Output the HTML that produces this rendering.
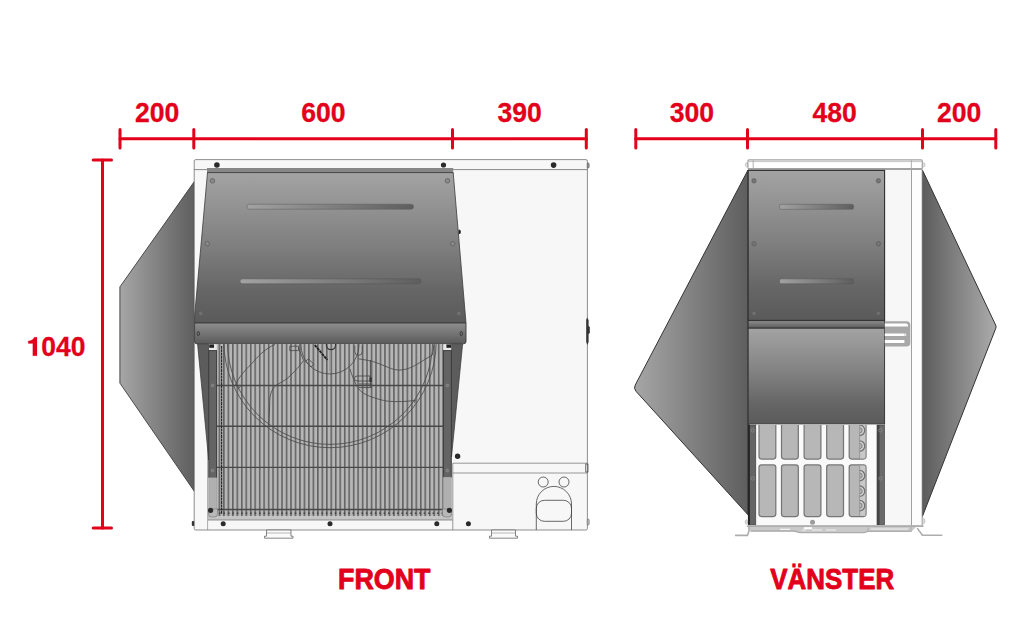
<!DOCTYPE html>
<html>
<head>
<meta charset="utf-8">
<title>Dimensions</title>
<style>
html,body{margin:0;padding:0;background:#fff;}
body{width:1024px;height:640px;overflow:hidden;font-family:"Liberation Sans",sans-serif;}
svg{display:block;}
.t{font-family:"Liberation Sans",sans-serif;font-weight:bold;fill:#e2001a;}
</style>
</head>
<body>
<svg width="1024" height="640" viewBox="0 0 1024 640">
<defs>
  <linearGradient id="gHood" x1="0" y1="0" x2="0" y2="1">
    <stop offset="0" stop-color="#a3a3a3"/>
    <stop offset="0.45" stop-color="#828282"/>
    <stop offset="0.78" stop-color="#666666"/>
    <stop offset="1" stop-color="#5a5a5a"/>
  </linearGradient>
  <linearGradient id="gBand" x1="0" y1="0" x2="0" y2="1">
    <stop offset="0" stop-color="#8e8e8e"/>
    <stop offset="1" stop-color="#5a5a5a"/>
  </linearGradient>
  <linearGradient id="gWingL" x1="0" y1="0" x2="1" y2="0">
    <stop offset="0" stop-color="#a6a6a6"/>
    <stop offset="1" stop-color="#5e5e5e"/>
  </linearGradient>
  <linearGradient id="gWingR" x1="0" y1="0" x2="1" y2="0">
    <stop offset="0" stop-color="#5c5c5c"/>
    <stop offset="1" stop-color="#acacac"/>
  </linearGradient>
  <linearGradient id="gSlot" x1="0" y1="0" x2="1" y2="0">
    <stop offset="0" stop-color="#a2a2a2"/>
    <stop offset="1" stop-color="#5e5e5e"/>
  </linearGradient>
  <pattern id="pGrille" x="218.6" y="0" width="4.475" height="10" patternUnits="userSpaceOnUse">
    <rect x="0" y="0" width="4.475" height="10" fill="#b6b6b6"/>
    <rect x="0.05" y="0" width="1.5" height="10" fill="#5e5e5e"/>
  </pattern>
  <clipPath id="cGrille"><rect x="216.5" y="344" width="227" height="172.5"/></clipPath>
  <clipPath id="cCells"><rect x="755.8" y="424.9" width="121" height="100"/></clipPath>
</defs>

<!-- ================= FRONT VIEW ================= -->
<g id="front">
  <!-- left wing -->
  <polygon points="194.5,181.3 119.9,286.9 119.9,383.1 194.5,491.6" fill="url(#gWingL)" stroke="#3c3c3c" stroke-width="0.9" stroke-linejoin="round"/>
  <!-- body -->
  <rect x="194.2" y="159.6" width="393.2" height="370.4" rx="1.5" fill="#f7f7f7" stroke="#606060" stroke-width="0.7"/>
  <line x1="194.2" y1="169.6" x2="587.4" y2="169.6" stroke="#5a5a5a" stroke-width="0.7"/>
  <!-- hood -->
  <rect x="207" y="168.4" width="246.2" height="4.4" fill="#878787"/><line x1="207.3" y1="172.8" x2="453.3" y2="172.8" stroke="#3a3a3a" stroke-width="1.2"/><line x1="207" y1="168.5" x2="453.2" y2="168.5" stroke="#6a6a6a" stroke-width="0.6"/>
  <polygon points="207.5,172.6 453.2,172.6 466,323 194.6,323 194.6,316" fill="url(#gHood)" stroke="#3c3c3c" stroke-width="0.8" stroke-linejoin="round"/>
  <!-- band -->
  <path d="M194.6,323 H466 V341.5 Q466,343.8 463.5,343.8 H197 Q194.6,343.8 194.6,341.5 Z" fill="url(#gBand)" stroke="#3a3a3a" stroke-width="0.9"/>
  <!-- grille -->
  <rect x="216.5" y="344" width="227" height="172.5" fill="url(#pGrille)"/>
  <!-- fan + grille lines -->
  <g clip-path="url(#cGrille)" fill="none" stroke="#4c4c4c" stroke-width="0.85">
    <circle cx="330" cy="341.5" r="106.2"/>
    <circle cx="330" cy="341.8" r="102.6"/>
    <circle cx="330" cy="345" r="29"/>
    <path d="M234.8,386 C238,378 246,369 251,364.5 C257,357 266,348 275,344.5"/>
    <path d="M236.5,386 l2,2.6 l2,-2.6"/>
    <path d="M303.5,360.6 C299,367 295,371 291,375 C287,379 283,381.5 278.5,383.8 C275,386 273,388 272.3,390 C270,394 269.5,400 269.7,404 L268.8,425"/>
    <path d="M289.8,346.2 h8.7 v4.4 h-8.7 z M298.5,347.5 L303.5,360.5"/>
    <path d="M308.5,358.8 L314,364.4 L311,366.9 L305.4,361.3 Z"/>
    <path d="M354.8,345.6 v6 a3.75,3.75 0 0 0 7.5,0 v-6"/>
    <path d="M358.5,358.8 C366,360 372,361 376,362.5 C381,364.5 385,366 388.5,367.5 C393,369.5 397,370.3 401,370 C405,369.6 409,368.5 413.5,366.3 C418,364 422,361 426,358.8 L432.3,355 L434,345"/>
    <path d="M349.8,368.8 C351,372 352,375.5 353.5,378.8 C355,382.5 356.5,386 358.5,388.8 C361,392 365,394.5 369.8,396.3 C376,398.5 382,400.5 388.5,401.3 C397,402 406,401.5 413.5,400.6 L415.4,400 L414.3,402.8"/>
    <path d="M370.4,360 V387.5" stroke="#444"/>
    <path d="M357,376 h13 v5 h-13 a2.5,2.5 0 0 1 0,-5 z M359,384 h13 M359,387.6 h13" stroke="#444" stroke-width="0.8"/>
    <rect x="369.6" y="377.5" width="2.2" height="4.5" fill="#333" stroke="none"/>
    <path d="M314.8,345 L327.3,360" stroke="#222" stroke-width="1.9" stroke-dasharray="3 0.7"/>
    <circle cx="331" cy="345" r="4.6" stroke="#333" stroke-width="1.2"/>
    <path d="M329.8,350 V371" stroke="#9a9a9a" stroke-width="1.3"/>
  </g>
  <g stroke="#484848" stroke-width="1.35">
    <line x1="217" y1="385.5" x2="443" y2="385.5"/>
    <line x1="217" y1="426.2" x2="443" y2="426.2"/>
    <line x1="217" y1="467.4" x2="443" y2="467.4"/>
    <line x1="217" y1="509.5" x2="443" y2="509.5"/>
  </g>
  <line x1="221.6" y1="346" x2="221.6" y2="514" stroke="#2a2a2a" stroke-width="1.2" stroke-dasharray="2.8 0.5"/>
  <line x1="219" y1="513.2" x2="443" y2="513.2" stroke="#444" stroke-width="1.6" stroke-dasharray="1.6 2.85"/>
  <!-- below grille -->
  <rect x="208" y="516.3" width="244" height="3.6" fill="#c4c4c4"/>
  <line x1="208" y1="520" x2="452.6" y2="520" stroke="#666" stroke-width="0.7"/>
  <line x1="207.6" y1="344" x2="207.6" y2="530" stroke="#777" stroke-width="0.6"/>
  <!-- skirts + pillars -->
  <polygon points="197.6,344.2 208.7,344.2 208.7,460" fill="#5c5c5c" stroke="#333" stroke-width="0.7"/>
  <polygon points="462.6,344.2 451.5,344.2 451.5,457" fill="#5c5c5c" stroke="#333" stroke-width="0.7"/>
  <rect x="208.8" y="350.6" width="7.8" height="127" fill="#646464" stroke="#363636" stroke-width="0.9"/>
  <rect x="443.4" y="350.6" width="7.9" height="126.6" fill="#646464" stroke="#363636" stroke-width="0.9"/>
  <rect x="208.8" y="477.5" width="7.6" height="39" fill="#b0b0b0" stroke="#888" stroke-width="0.5"/>
  <rect x="443.4" y="477" width="7.8" height="39" fill="#b0b0b0" stroke="#888" stroke-width="0.5"/>
  <path d="M208.5,509 h9 v5 q0,3 -3,3 h-3 q-3,0 -3,-3 z" fill="#b8b8b8" stroke="#777" stroke-width="0.6"/>
  <path d="M451.5,509 h-9 v5 q0,3 3,3 h3 q3,0 3,-3 z" fill="#b8b8b8" stroke="#777" stroke-width="0.6"/>
  <rect x="209" y="344.4" width="7.4" height="5.4" fill="#e8e8e8"/><rect x="209.2" y="344.4" width="4.8" height="3.4" fill="#222"/>
  <rect x="443.4" y="344.4" width="7.8" height="5.4" fill="#e8e8e8"/><rect x="446.4" y="344.4" width="4.8" height="3.4" fill="#222"/>
  <!-- pillar screws -->
  <g fill="#777" stroke="#999" stroke-width="0.5">
    <circle cx="212.6" cy="385.5" r="1.4"/><circle cx="212.6" cy="470.5" r="1.4"/>
    <circle cx="447.3" cy="385.5" r="1.4"/><circle cx="447.3" cy="470.5" r="1.4"/>
  </g>
  <!-- slots -->
  <rect x="247" y="204.2" width="166.5" height="5" rx="2.5" fill="url(#gSlot)" stroke="#5a5a5a" stroke-width="0.5"/>
  <rect x="240" y="278.8" width="181" height="5" rx="2.5" fill="url(#gSlot)" stroke="#555" stroke-width="0.5"/>
  <!-- hood screws (gray) -->
  <g fill="#8a8a8a" stroke="#606060" stroke-width="0.8">
    <circle cx="212.4" cy="180.8" r="2.3"/><circle cx="447.5" cy="180.8" r="2.3"/>
    <circle cx="207.3" cy="243.7" r="2.2"/><circle cx="452.8" cy="243.7" r="2.2"/>
  </g>
  <g fill="#666" stroke="#8a8a8a" stroke-width="0.5">
    <circle cx="200.8" cy="313.4" r="1.3"/><circle cx="458.9" cy="313.4" r="1.3"/>
  </g>
  <ellipse cx="198.3" cy="333.6" rx="1.2" ry="2.1" fill="none" stroke="#222" stroke-width="0.7"/>
  <ellipse cx="461.3" cy="333.6" rx="1.2" ry="2.1" fill="none" stroke="#222" stroke-width="0.7"/>
  <path d="M458.6,229.6 a2.3,2.3 0 0 1 0,4.6 z" fill="#222"/>
  <!-- black screws -->
  <g fill="#2a2a2a">
    <circle cx="216.9" cy="165" r="2.8"/><circle cx="443.5" cy="165" r="2.6"/><circle cx="553.6" cy="165.1" r="2.8"/>
    <circle cx="223.2" cy="523.8" r="2.5"/><circle cx="330" cy="523.8" r="2.5"/><circle cx="436.8" cy="523.8" r="2.5"/>
    <circle cx="468.4" cy="523.8" r="2.5"/><circle cx="457.6" cy="456.3" r="2.7"/>
    <circle cx="210.6" cy="510.3" r="2.6"/><circle cx="449.4" cy="510.3" r="2.6"/>
  </g>
  <!-- right lower -->
  <g fill="none" stroke="#777" stroke-width="0.75">
    <line x1="452.8" y1="463.2" x2="587" y2="463.2"/>
    <line x1="452.8" y1="473" x2="587" y2="473"/>
    <line x1="452.8" y1="463.2" x2="452.8" y2="530"/>
  </g>
  <g fill="none" stroke="#444" stroke-width="0.8">
    <circle cx="543.2" cy="482" r="5"/>
    <circle cx="564" cy="482" r="5"/>
    <path d="M536.3,530 V504 A17.6,17.6 0 0 1 571.5,504 V530"/>
    <rect x="536.3" y="500.3" width="35.2" height="21" rx="8" ry="8"/>
  </g>
  <!-- feet -->
  <g fill="#fafafa" stroke="#555" stroke-width="0.7">
    <path d="M266.5,530 v6.2 h-2 v2 h28.5 v-2 h-2 v-6.2 z"/>
    <path d="M491.5,530 v6.2 h-2 v2 h28 v-2 h-2 v-6.2 z"/>
  </g>
  <line x1="266.5" y1="533" x2="291" y2="533" stroke="#777" stroke-width="0.5"/>
  <line x1="491.5" y1="533" x2="515.5" y2="533" stroke="#777" stroke-width="0.5"/>
  <!-- small side details -->
  <path d="M587,317.4 L588.6,320 V326 L589.8,327 V333 L588.6,334 V342 L587.4,345 L586.2,342 V320 Z" fill="#333"/>
  <rect x="585.8" y="464" width="2.2" height="8" fill="none" stroke="#333" stroke-width="0.7"/>
  <rect x="587.2" y="519" width="2" height="6" rx="1" fill="#bbb" stroke="#555" stroke-width="0.5"/>
  <rect x="587.2" y="163" width="2" height="5" rx="1" fill="#999" stroke="#444" stroke-width="0.5"/>
  <rect x="191.8" y="521" width="2.4" height="5" rx="1" fill="#333"/>
</g>

<!-- ================= LEFT (VÄNSTER) VIEW ================= -->
<g id="side">
  <path d="M748,170 L635.3,384.9 Q633.4,388.4 636.1,391.4 L748,514.8 Z" fill="url(#gWingL)" stroke="#333" stroke-width="1" stroke-linejoin="round"/>
  <path d="M922.4,170 L995.6,325 Q996.6,326.6 995.8,328.2 L922.4,516.4 Z" fill="url(#gWingR)" stroke="#333" stroke-width="1" stroke-linejoin="round"/>
  <!-- white columns -->
  <rect x="884.5" y="169.5" width="27.3" height="357" fill="#f7f7f7"/>
  <rect x="911.8" y="169.5" width="10.4" height="357" fill="#fdfdfd"/>
  <line x1="911.5" y1="169.5" x2="911.5" y2="526.5" stroke="#a0a0a0" stroke-width="1"/>
  <line x1="922.2" y1="169.5" x2="922.2" y2="526.5" stroke="#777" stroke-width="0.8"/>
  <!-- lid -->
  <ellipse cx="746.6" cy="164.8" rx="1.3" ry="2" fill="#e4e4e4" stroke="#aaa" stroke-width="0.6"/>
  <ellipse cx="923.6" cy="164.8" rx="1.4" ry="2.1" fill="#e4e4e4" stroke="#aaa" stroke-width="0.6"/>
  <rect x="747.9" y="159.8" width="174.4" height="9.2" rx="1.2" fill="#fff" stroke="#a2a2a2" stroke-width="1.2"/>
  <line x1="748" y1="161.6" x2="922.3" y2="161.6" stroke="#bdbdbd" stroke-width="0.9"/>
  <line x1="748" y1="168.9" x2="922.3" y2="168.9" stroke="#a2a2a2" stroke-width="2"/>
  <line x1="753.2" y1="160" x2="753.2" y2="169" stroke="#a8a8a8" stroke-width="0.9"/>
  <line x1="911.4" y1="160" x2="911.4" y2="169" stroke="#a8a8a8" stroke-width="0.9"/>
  <!-- panels -->
  <rect x="748.2" y="170.4" width="136.4" height="150" fill="url(#gHood)" stroke="#2e2e2e" stroke-width="1.1"/>
  <rect x="748.2" y="320.6" width="136.4" height="7.6" fill="url(#gBand)" stroke="#2e2e2e" stroke-width="0.9"/>
  <rect x="748.2" y="328.2" width="136.4" height="96" fill="url(#gHood)" stroke="#2e2e2e" stroke-width="0.9"/>
  <!-- cell area -->
  <rect x="749" y="424.5" width="135.6" height="101.5" fill="#fafafa"/>
  <g fill="#b7b7b7" stroke="#767676" stroke-width="1.25" clip-path="url(#cCells)">
    <rect x="759.0" y="418" width="16.8" height="41" rx="2.4"/>
    <rect x="759.0" y="464.9" width="16.8" height="51.6" rx="2.4"/>
    <rect x="781.5" y="418" width="16.8" height="41" rx="2.4"/>
    <rect x="781.5" y="464.9" width="16.8" height="51.6" rx="2.4"/>
    <rect x="804.1" y="418" width="16.8" height="41" rx="2.4"/>
    <rect x="804.1" y="464.9" width="16.8" height="51.6" rx="2.4"/>
    <rect x="826.7" y="418" width="16.8" height="41" rx="2.4"/>
    <rect x="826.7" y="464.9" width="16.8" height="51.6" rx="2.4"/>
    <rect x="849.2" y="418" width="16.8" height="41" rx="2.4"/>
    <rect x="849.2" y="464.9" width="16.8" height="51.6" rx="2.4"/>
  </g>
  <!-- valve semicircles in last column -->
  <g clip-path="url(#cCells)">
    <rect x="859.6" y="425" width="5.8" height="33.4" fill="#c8c8c8"/>
    <rect x="859.6" y="465.6" width="5.8" height="50.2" fill="#c8c8c8"/>
    <g fill="#cfcfcf" stroke="#727272" stroke-width="1.3">
      <path d="M859.6,425.1 a5.2,5.2 0 0 1 0,10.4"/>
      <path d="M859.6,440.8 a5.2,5.2 0 0 1 0,10.4"/>
      <path d="M859.6,470.4 a5.2,5.2 0 0 1 0,10.4"/>
      <path d="M859.6,486.0 a5.2,5.2 0 0 1 0,10.4"/>
      <path d="M859.6,500.4 a5.2,5.2 0 0 1 0,10.4"/>
    </g>
    <g fill="#b4b4b4" stroke="#7a7a7a" stroke-width="0.9">
      <path d="M859.6,427.7 a2.6,2.6 0 0 1 0,5.2"/>
      <path d="M859.6,443.4 a2.6,2.6 0 0 1 0,5.2"/>
      <path d="M859.6,473.0 a2.6,2.6 0 0 1 0,5.2"/>
      <path d="M859.6,488.6 a2.6,2.6 0 0 1 0,5.2"/>
      <path d="M859.6,503.0 a2.6,2.6 0 0 1 0,5.2"/>
    </g>
    <line x1="859.6" y1="425" x2="859.6" y2="459" stroke="#8a8a8a" stroke-width="0.7"/>
    <line x1="859.6" y1="465" x2="859.6" y2="516.5" stroke="#8a8a8a" stroke-width="0.7"/>
  </g>
  <!-- pillars -->
  <rect x="749.2" y="425" width="6.6" height="99.9" fill="#646464" stroke="#3a3a3a" stroke-width="0.6"/>
  <rect x="877" y="425" width="7.6" height="99.9" fill="#6a6a6a" stroke="#3a3a3a" stroke-width="0.6"/><rect x="877" y="425" width="2.6" height="99.9" fill="#444"/>
  <line x1="748.9" y1="424.5" x2="748.9" y2="524.9" stroke="#262626" stroke-width="2"/>
  <g fill="none" stroke="#8e8e8e" stroke-width="0.7">
    <circle cx="752.6" cy="430.4" r="1.7"/><circle cx="752.6" cy="478.4" r="1.7"/>
    <circle cx="880.4" cy="430.4" r="1.7"/><circle cx="880.4" cy="478.4" r="1.7"/>
  </g>
  <circle cx="812.5" cy="522.3" r="2.5" fill="#9c9c9c"/>
  <!-- slots -->
  <rect x="779.6" y="204.3" width="74" height="5" rx="1.6" fill="url(#gSlot)" stroke="#5a5a5a" stroke-width="0.5"/>
  <rect x="779.6" y="278.8" width="74" height="5" rx="1.6" fill="url(#gSlot)" stroke="#555" stroke-width="0.5"/>
  <!-- panel screws -->
  <g fill="#767676" stroke="#555" stroke-width="0.6">
    <circle cx="754" cy="180.8" r="2.2"/><circle cx="878.4" cy="180.8" r="2.2"/>
    <circle cx="754" cy="243.7" r="2.2"/><circle cx="878.4" cy="243.7" r="2.2"/>
  </g>
  <g fill="#666" stroke="#8a8a8a" stroke-width="0.5">
    <circle cx="754" cy="313.4" r="1.2"/><circle cx="878.4" cy="313.4" r="1.2"/>
  </g>
  <!-- handle -->
  <path d="M884.8,321.2 H906.5 Q910.3,321.2 910.3,325 V342.8 Q910.3,346.6 906.5,346.6 H884.8 Z" fill="#a8a8a8"/>
  <path d="M884.8,323.4 H906 Q908,323.4 908,325.4 V326.5 H884.8 Z" fill="#fff"/>
  <rect x="884.8" y="333.5" width="19.4" height="2.5" fill="#fff"/>
  <rect x="884.8" y="340" width="19.6" height="3" fill="#fff"/>
  <rect x="904.2" y="333.5" width="2" height="2.5" fill="#e8e8e8"/>
  <!-- base frame -->
  <path d="M747.6,525.4 H922.8 V527 H916 L912,531 H868 L864,532.6 H800 L794,531.6 H751 L748.6,529 Z" fill="#c9c9c9"/>
  <g fill="none" stroke="#adadad" stroke-linejoin="round" stroke-linecap="round">
    <path d="M747.6,526.2 H922.8" stroke-width="1.7"/>
    <path d="M749,527 V531 L747.4,535.4 H735.6" stroke-width="1.6"/>
    <path d="M917.6,528.6 L922.4,535.2 H941.8" stroke-width="1.6"/>
    <path d="M751,531 H794 L800,532.6 H864 L868,531.4 H911" stroke-width="1.4"/>
    <path d="M911,527 V531 M868,528 v3.5" stroke-width="1"/>
  </g>
  <g stroke="#f2f2f2" stroke-width="1.1" fill="none">
    <path d="M780,529.4 H790 M802,530 H806 M812,530 H822 M826,530 H836 M871,529 H908"/>
  </g>
  <rect x="804" y="527.2" width="8" height="2" fill="#fff"/>
  <ellipse cx="746.4" cy="522" rx="1.2" ry="2.2" fill="#ddd" stroke="#aaa" stroke-width="0.6"/>
  <ellipse cx="923.6" cy="521" rx="1.3" ry="2.6" fill="#ddd" stroke="#aaa" stroke-width="0.6"/>
</g>

<!-- ================= DIMENSIONS ================= -->
<g stroke="#e2001a" stroke-width="3" stroke-linecap="round" fill="none">
  <line x1="120" y1="138.8" x2="586.3" y2="138.8"/>
  <line x1="120" y1="129.5" x2="120" y2="148"/>
  <line x1="193.8" y1="129.5" x2="193.8" y2="148"/>
  <line x1="452.5" y1="129.5" x2="452.5" y2="148"/>
  <line x1="586.3" y1="129.5" x2="586.3" y2="148"/>
  <line x1="635.8" y1="138.8" x2="995.8" y2="138.8"/>
  <line x1="635.8" y1="129.5" x2="635.8" y2="148"/>
  <line x1="747.5" y1="129.5" x2="747.5" y2="148"/>
  <line x1="922.5" y1="129.5" x2="922.5" y2="148"/>
  <line x1="995.8" y1="129.5" x2="995.8" y2="148"/>
  <line x1="102.5" y1="160" x2="102.5" y2="527.9"/>
  <line x1="93.2" y1="160" x2="111.5" y2="160"/>
  <line x1="93.2" y1="527.9" x2="111.5" y2="527.9"/>
</g>
<g class="t" text-anchor="middle" stroke="#e2001a" stroke-linejoin="round">
  <g font-size="28" stroke-width="0.3">
  <text transform="translate(157.1,121.8) scale(0.95,1)">200</text>
  <text transform="translate(323.3,121.8) scale(0.95,1)">600</text>
  <text transform="translate(519.7,121.8) scale(0.95,1)">390</text>
  <text transform="translate(691.9,121.8) scale(0.95,1)">300</text>
  <text transform="translate(834.7,121.8) scale(0.95,1)">480</text>
  <text transform="translate(959.1,121.8) scale(0.95,1)">200</text>
  <text transform="translate(63.3,356.2) scale(0.97,1)" font-size="27.3">040</text>
  <path d="M32.8,355.8 V343.6 H28.2 V341 C30.6,340.9 33.3,339.9 34.2,337.3 H37 V355.8 Z" stroke-width="0.2"/>
  </g>
  <g font-size="30" stroke-width="0.9">
  <text transform="translate(384.25,589.2) scale(0.895,1)">FRONT</text>
  <text transform="translate(832.25,589.2) scale(0.865,1)">VÄNSTER</text>
  </g>
</g>
</svg>
</body>
</html>
